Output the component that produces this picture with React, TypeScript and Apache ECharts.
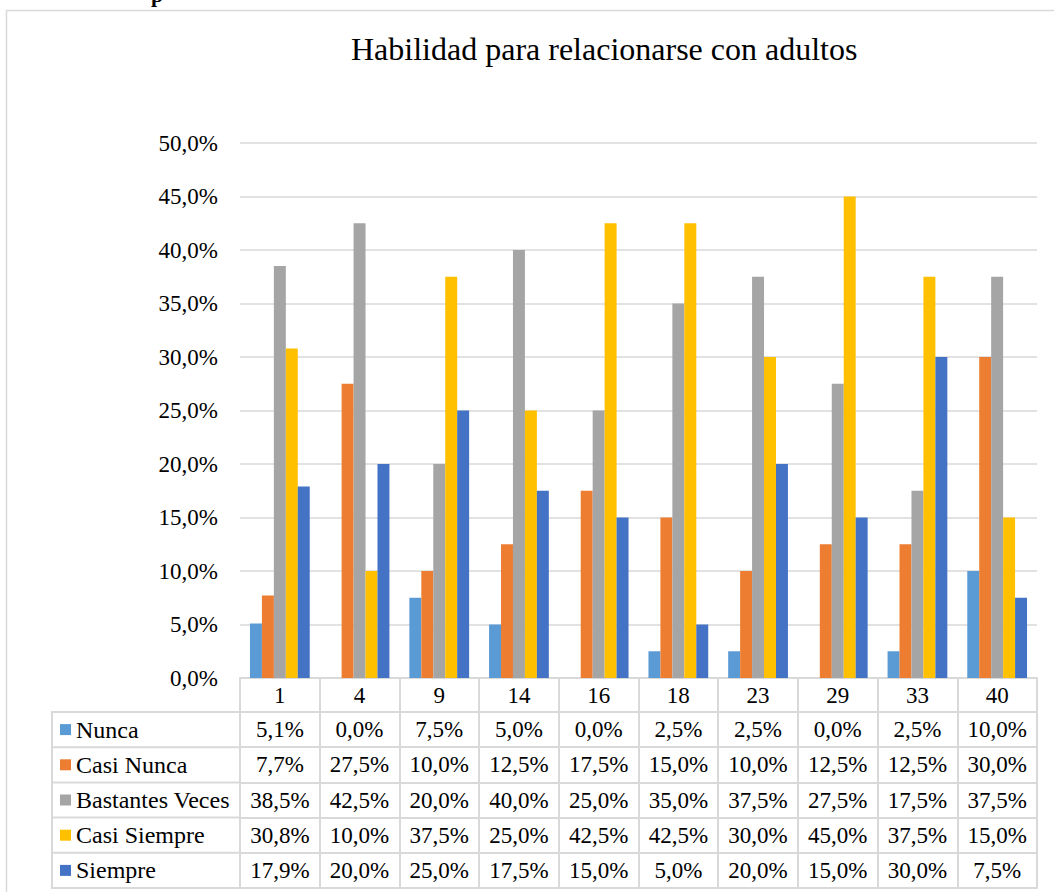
import React, { useEffect, useRef } from "react";
import * as echarts from "echarts";

const categories = ["1", "4", "9", "14", "16", "18", "23", "29", "33", "40"];
const seriesNames = ["Nunca", "Casi Nunca", "Bastantes Veces", "Casi Siempre", "Siempre"];
const nunca = [5.1, 0.0, 7.5, 5.0, 0.0, 2.5, 2.5, 0.0, 2.5, 10.0];
const casiNunca = [7.7, 27.5, 10.0, 12.5, 17.5, 15.0, 10.0, 12.5, 12.5, 30.0];
const bastantesVeces = [38.5, 42.5, 20.0, 40.0, 25.0, 35.0, 37.5, 27.5, 17.5, 37.5];
const casiSiempre = [30.8, 10.0, 37.5, 25.0, 42.5, 42.5, 30.0, 45.0, 37.5, 15.0];
const siempre = [17.9, 20.0, 25.0, 17.5, 15.0, 5.0, 20.0, 15.0, 30.0, 7.5];
const colors = ["#5B9BD5", "#ED7D31", "#A5A5A5", "#FFC000", "#4472C4"];
const title = "Habilidad para relacionarse con adultos";

const allSeries = [nunca, casiNunca, bastantesVeces, casiSiempre, siempre];

const FONT = "Liberation Serif";
const BORDER = "#d9d9d9";
const fmt = (v: number) => v.toFixed(1).replace(".", ",") + "%";

export default function App() {
  const ref = useRef<HTMLDivElement>(null);
  useEffect(() => {
    if (!ref.current) return;
    const chart = echarts.init(ref.current, undefined, { renderer: "svg" });

    const axisBottom = 678;
    const headerH = 34;
    const rowH = 35.2;
    const rowTops = [0, 1, 2, 3, 4, 5].map((i) => axisBottom + headerH + rowH * i);

    const labelStyle = { color: "#000", fontFamily: FONT, fontSize: 23 };

    const xAxes: any[] = [
      {
        type: "category",
        data: categories,
        position: "bottom",
        gridIndex: 0,
        axisLine: { show: true, lineStyle: { color: BORDER, width: 2 } },
        axisTick: { show: true, length: headerH, interval: 0, alignWithLabel: false, lineStyle: { color: BORDER, width: 2 } },
        axisLabel: { ...labelStyle, margin: 17, verticalAlign: "middle", interval: 0 },
      },
    ];
    allSeries.forEach((vals, i) => {
      xAxes.push({
        type: "category",
        data: categories,
        position: "bottom",
        gridIndex: 0,
        offset: headerH + rowH * i,
        axisLine: { show: true, lineStyle: { color: BORDER, width: 2 } },
        axisTick: { show: true, length: rowH, interval: 0, alignWithLabel: false, lineStyle: { color: BORDER, width: 2 } },
        axisLabel: {
          ...labelStyle,
          margin: rowH / 2,
          verticalAlign: "middle",
          interval: 0,
          formatter: (_v: string, idx: number) => fmt(vals[idx]),
        },
      });
    });
    xAxes.push({
      type: "category",
      data: categories,
      position: "bottom",
      gridIndex: 0,
      offset: headerH + rowH * 5,
      axisLine: { show: true, lineStyle: { color: BORDER, width: 2 } },
      axisTick: { show: false },
      axisLabel: { show: false },
    });

    const graphics: any[] = [
      {
        type: "rect",
        shape: { x: 6.5, y: 10.5, width: 1200, height: 1000 },
        style: { fill: "none", stroke: BORDER, lineWidth: 1.5 },
        silent: true,
      },
      {
        type: "text",
        x: 151,
        y: -17,
        style: { text: "p", font: "bold 22px " + FONT, fill: "#000" },
        silent: true,
      },
      {
        type: "line",
        shape: { x1: 52, y1: rowTops[0], x2: 52, y2: rowTops[5] },
        style: { stroke: BORDER, lineWidth: 2 },
        silent: true,
      },
    ];
    rowTops.forEach((y) => {
      graphics.push({
        type: "line",
        shape: { x1: 51, y1: y, x2: 240, y2: y },
        style: { stroke: BORDER, lineWidth: 2 },
        silent: true,
      });
    });

    chart.setOption({
      animation: false,
      color: colors,
      textStyle: { fontFamily: FONT },
      title: {
        text: title,
        left: 346,
        top: 28,
        textStyle: { fontFamily: FONT, fontSize: 32, fontWeight: "normal", color: "#000" },
      },
      legend: {
        data: seriesNames,
        orient: "vertical",
        left: 60,
        top: rowTops[0],
        padding: 0,
        itemGap: 0,
        itemWidth: 11,
        itemHeight: 11,
        icon: "rect",
        selectedMode: false,
        textStyle: { fontFamily: FONT, fontSize: 24, color: "#000", lineHeight: rowH, height: rowH },
      },
      grid: { left: 240, right: 17, top: 143, bottom: 892 - axisBottom, containLabel: false },
      xAxis: xAxes,
      yAxis: {
        type: "value",
        min: 0,
        max: 50,
        interval: 5,
        axisLine: { show: false },
        axisTick: { show: false },
        splitLine: { lineStyle: { color: BORDER, width: 1.5 } },
        axisLabel: {
          ...labelStyle,
          margin: 22,
          formatter: (v: number) => fmt(v),
        },
      },
      series: allSeries.map((vals, i) => ({
        name: seriesNames[i],
        type: "bar",
        xAxisIndex: 0,
        yAxisIndex: 0,
        data: vals,
        barGap: "0%",
        barCategoryGap: "25%",
        itemStyle: { color: colors[i] },
      })),
      graphic: graphics,
    });
    return () => chart.dispose();
  }, []);
  return (
    <div
      ref={ref}
      style={{ position: "absolute", left: 0, top: 0, width: 1054, height: 892, background: "#fff" }}
    />
  );
}
